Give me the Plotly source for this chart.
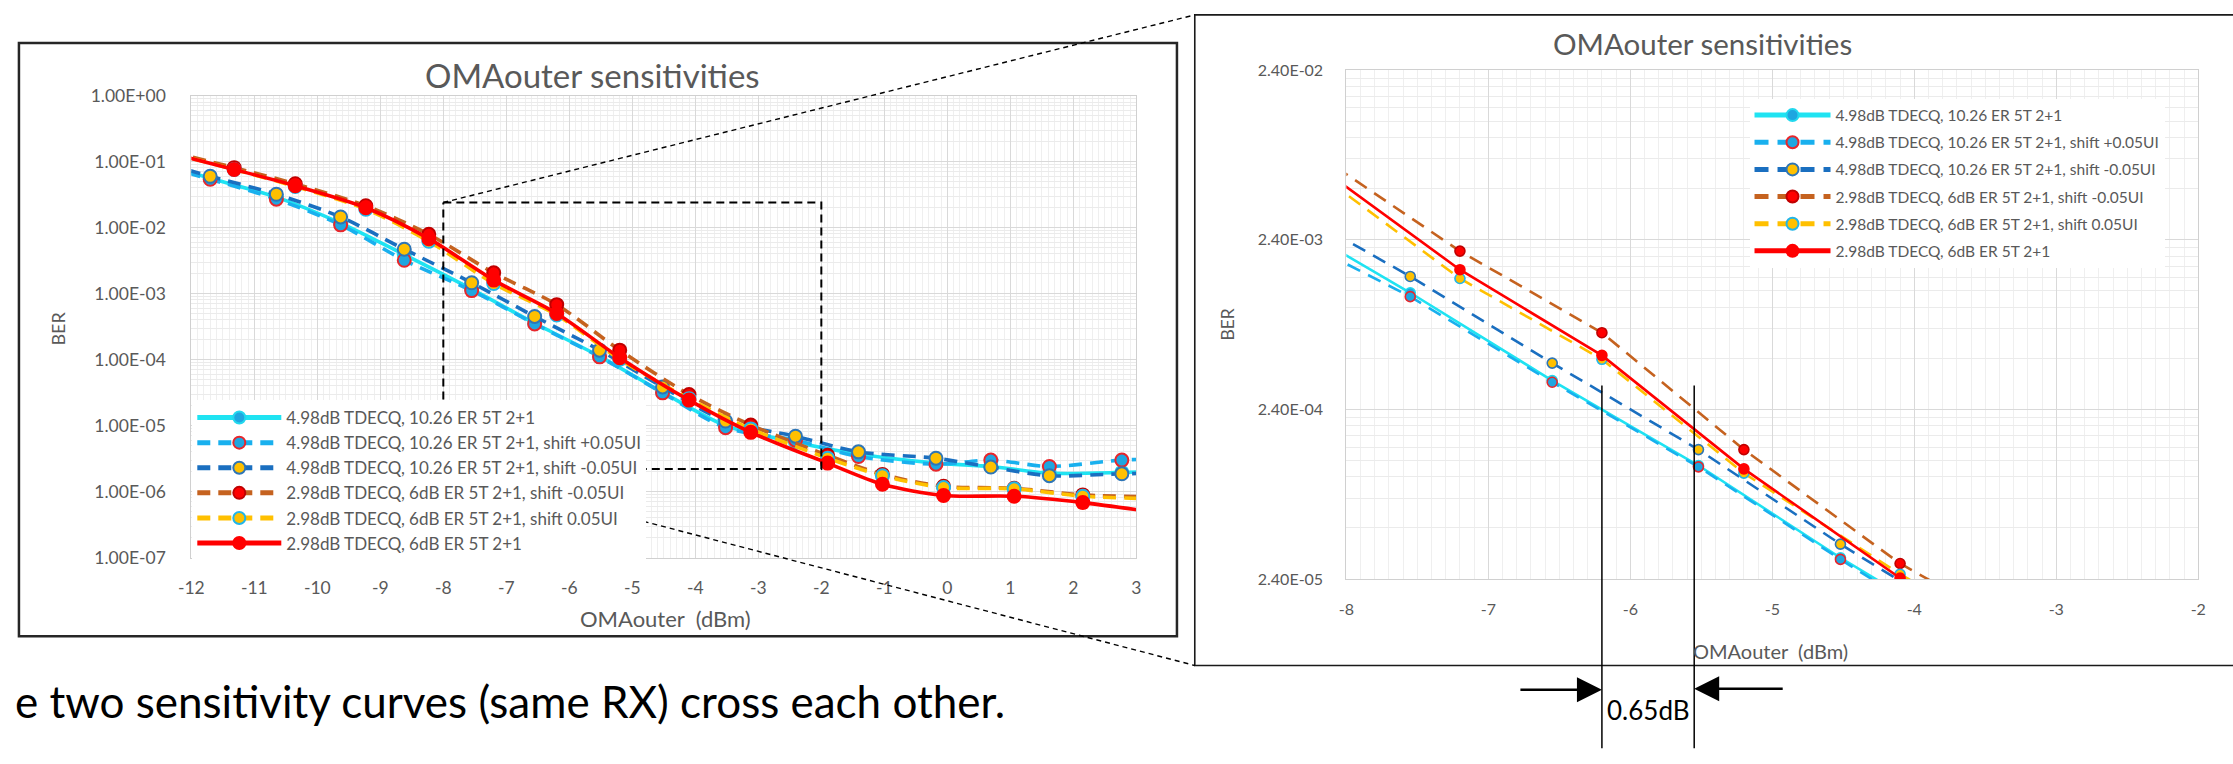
import math
import plotly.graph_objects as go

W, H = 2233, 764
FONT = "Lato"
GRAY = "#595959"

# ---------------- data ----------------
OMA_498 = [-12.7, -11.7, -10.65, -9.63, -8.62, -7.55, -6.55, -5.52, -4.52, -3.52,
           -2.41, -1.41, -0.18, 0.69, 1.62, 2.77, 3.7]
BER_498 = [1.07e-1, 5.6e-2, 2.9e-2, 1.17e-2, 3.9e-3, 1.17e-3, 3.55e-4, 1.12e-4, 3.2e-5,
           1.0e-5, 5.6e-6, 3.7e-6, 2.7e-6, 2.4e-6, 1.9e-6, 1.95e-6, 2.1e-6]
BER_498_plus = [1.0e-1, 5.4e-2, 2.7e-2, 1.1e-2, 3.2e-3, 1.11e-3, 3.47e-4, 1.1e-4, 3.13e-5,
                9.3e-6, 6.0e-6, 3.4e-6, 2.6e-6, 3.0e-6, 2.4e-6, 3.0e-6, 3.16e-6]
BER_498_minus = [1.12e-1, 6.0e-2, 3.2e-2, 1.45e-2, 4.7e-3, 1.46e-3, 4.5e-4, 1.39e-4, 3.85e-5,
                 1.17e-5, 6.9e-6, 4.0e-6, 3.2e-6, 2.35e-6, 1.74e-6, 1.86e-6, 1.9e-6]

OMA_298 = [-12.3, -11.32, -10.35, -9.23, -8.23, -7.2, -6.2, -5.2, -4.1, -3.12,
           -1.9, -1.03, -0.06, 1.06, 2.15, 3.2]
BER_298_minus = [1.38e-1, 8.1e-2, 4.6e-2, 2.14e-2, 7.9e-3, 2.06e-3, 6.8e-4, 1.39e-4, 2.96e-5,
                 1.02e-5, 3.55e-6, 1.82e-6, 1.2e-6, 1.12e-6, 8.9e-7, 8.3e-7]
BER_298_plus = [1.32e-1, 7.6e-2, 4.2e-2, 1.9e-2, 6.2e-3, 1.42e-3, 4.74e-4, 1.01e-4, 2.56e-5,
                8.9e-6, 3.2e-6, 1.74e-6, 1.15e-6, 1.1e-6, 8.5e-7, 7.8e-7]
BER_298 = [1.32e-1, 7.6e-2, 4.3e-2, 2.0e-2, 6.8e-3, 1.6e-3, 5.0e-4, 1.07e-4, 2.43e-5,
           7.9e-6, 2.7e-6, 1.29e-6, 8.7e-7, 8.5e-7, 6.8e-7, 5.0e-7]

NAMES = ["4.98dB TDECQ, 10.26 ER 5T 2+1",
         "4.98dB TDECQ, 10.26 ER 5T 2+1, shift +0.05UI",
         "4.98dB TDECQ, 10.26 ER 5T 2+1, shift -0.05UI",
         "2.98dB TDECQ, 6dB ER 5T 2+1, shift -0.05UI",
         "2.98dB TDECQ, 6dB ER 5T 2+1, shift 0.05UI",
         "2.98dB TDECQ, 6dB ER 5T 2+1"]

LEFT_YTICKS = [1e-7, 1e-6, 1e-5, 1e-4, 1e-3, 1e-2, 1e-1, 1e0]
LEFT_XTICKS = list(range(-12, 4))
RIGHT_YTICKS = [2.4e-5, 2.4e-4, 2.4e-3, 2.4e-2]
RIGHT_XTICKS = list(range(-8, -1))

ZOOM_BOX_X = [-8, -2]
ZOOM_BOX_Y = [2.4e-2, 2.2e-6]
DELTA_X = [-6.2, -5.55]
DELTA_LABEL = "0.65dB"
CAPTION = "e two sensitivity curves (same RX) cross each other."
TITLE = "OMAouter sensitivities"
XTITLE = "OMAouter  (dBm)"
YTITLE = "BER"

# ---------------- styles ----------------
SERIES = [
    (OMA_498, BER_498, "#1FE3F2", "solid", "#1FA6E0", "#22D8EE"),
    (OMA_498, BER_498_plus, "#19B0EE", "dash", "#1FA6E0", "#E8262B"),
    (OMA_498, BER_498_minus, "#1A6FC0", "dash", "#FFC000", "#2E75B6"),
    (OMA_298, BER_298_minus, "#C5621F", "dash", "#FF0000", "#C00000"),
    (OMA_298, BER_298_plus, "#FFC000", "dash", "#FFC000", "#22B5E8"),
    (OMA_298, BER_298, "#FF0000", "solid", "#FF0000", "#FF0000"),
]

# plot-area pixel boxes
L_PLOT = dict(x0=180, x1=1134, y0=87, y1=562)
R_PLOT = dict(x0=1346, x1=2206, y0=61, y1=584)


def px(x):
    return x / W


def py(y):
    return 1 - y / H


fig = go.Figure()

for i, (xs, ys, col, dash, mfill, mline) in enumerate(SERIES):
    dashL = "13px,8px" if dash == "dash" else "solid"
    fig.add_trace(go.Scatter(
        x=xs, y=ys, name=NAMES[i], mode="lines+markers", xaxis="x", yaxis="y",
        legend="legend", legendgroup=f"L{i}",
        line=dict(color=col, width=3.6, dash=dashL, shape="spline", smoothing=0.8),
        marker=dict(size=13, color=mfill, line=dict(color=mline, width=2)),
    ))
for i, (xs, ys, col, dash, mfill, mline) in enumerate(SERIES):
    dashR = "14px,9px" if dash == "dash" else "solid"
    fig.add_trace(go.Scatter(
        x=xs, y=ys, name=NAMES[i], mode="lines+markers", xaxis="x2", yaxis="y2",
        legend="legend2", legendgroup=f"R{i}",
        line=dict(color=col, width=2.6, dash=dashR),
        marker=dict(size=10, color=mfill, line=dict(color=mline, width=1.6)),
    ))

# dashed zoom box on the left chart (data coordinates)
fig.add_trace(go.Scatter(
    x=[ZOOM_BOX_X[0], ZOOM_BOX_X[1], ZOOM_BOX_X[1], ZOOM_BOX_X[0], ZOOM_BOX_X[0]],
    y=[ZOOM_BOX_Y[0], ZOOM_BOX_Y[0], ZOOM_BOX_Y[1], ZOOM_BOX_Y[1], ZOOM_BOX_Y[0]],
    mode="lines", xaxis="x", yaxis="y", showlegend=False, hoverinfo="skip",
    line=dict(color="black", width=2, dash="8px,5px"),
))

LX = [-12, 3]
LY = [-7, 0]
RX = [-8, -2]
RY = [math.log10(2.4e-5), math.log10(2.4e-2)]

xdomL = [px(L_PLOT["x0"]), px(L_PLOT["x1"])]
ydomL = [py(L_PLOT["y1"]), py(L_PLOT["y0"])]
xdomR = [px(R_PLOT["x0"]), px(R_PLOT["x1"])]
ydomR = [py(R_PLOT["y1"]), py(R_PLOT["y0"])]


def minor_log(ticks):
    out = []
    for t in ticks[:-1]:
        for n in range(2, 10):
            out.append(t * n)
    return out


def axis_common(size):
    return dict(showline=True, linecolor="#D0D0D0", linewidth=1, mirror=True,
                ticks="", zeroline=False, gridcolor="#D9D9D9", gridwidth=1,
                tickfont=dict(family=FONT, size=size, color=GRAY))


fig.update_layout(
    xaxis=dict(domain=xdomL, range=LX, anchor="y", tickmode="array", tickvals=LEFT_XTICKS,
               ticktext=[str(v) for v in LEFT_XTICKS], ticklabelstandoff=14,
               minor=dict(dtick=0.1, showgrid=True, gridcolor="#EFEFEF", gridwidth=1, ticks=""),
               **axis_common(17.5)),
    yaxis=dict(domain=ydomL, type="log", range=LY, anchor="x", tickmode="array",
               tickvals=LEFT_YTICKS, ticktext=[f"{v:.2E}" for v in LEFT_YTICKS],
               ticklabelstandoff=21,
               minor=dict(tickmode="array", tickvals=minor_log(LEFT_YTICKS), showgrid=True,
                          gridcolor="#EBEBEB", gridwidth=1, ticks=""),
               **axis_common(17.5)),
    xaxis2=dict(domain=xdomR, range=RX, anchor="y2", tickmode="array", tickvals=RIGHT_XTICKS,
                ticktext=[str(v) for v in RIGHT_XTICKS], ticklabelstandoff=16,
                minor=dict(dtick=0.1, showgrid=True, gridcolor="#EFEFEF", gridwidth=1, ticks=""),
                **axis_common(16)),
    yaxis2=dict(domain=ydomR, type="log", range=RY, anchor="x2", tickmode="array",
                tickvals=RIGHT_YTICKS, ticktext=[f"{v:.2E}" for v in RIGHT_YTICKS],
                ticklabelstandoff=19,
                minor=dict(tickmode="array", tickvals=minor_log(RIGHT_YTICKS), showgrid=True,
                           gridcolor="#EBEBEB", gridwidth=1, ticks=""),
                **axis_common(16)),
    width=W, height=H, margin=dict(l=0, r=0, t=0, b=0),
    paper_bgcolor="white", plot_bgcolor="white",
    legend=dict(x=px(181), y=py(400), xanchor="left", yanchor="top", bgcolor="white",
                borderwidth=0, font=dict(family=FONT, size=17, color=GRAY),
                itemwidth=84, traceorder="grouped", tracegroupgap=0, itemsizing="constant"),
    legend2=dict(x=px(1753), y=py(90), xanchor="left", yanchor="top", bgcolor="white",
                 borderwidth=0, font=dict(family=FONT, size=15.5, color=GRAY),
                 itemwidth=76, traceorder="grouped", tracegroupgap=4, itemsizing="constant"),
    showlegend=True,
)


def data_to_paper_left(x, y):
    fx = (x - LX[0]) / (LX[1] - LX[0])
    fy = (math.log10(y) - LY[0]) / (LY[1] - LY[0])
    return (xdomL[0] + fx * (xdomL[1] - xdomL[0]), ydomL[0] + fy * (ydomL[1] - ydomL[0]))


shapes = []
# chart frames
shapes.append(dict(type="rect", xref="paper", yref="paper", x0=px(6), x1=px(1175),
                   y0=py(643), y1=py(33), line=dict(color="#262626", width=2.5), layer="below"))
shapes.append(dict(type="rect", xref="paper", yref="paper", x0=px(1193), x1=px(2260),
                   y0=py(673), y1=py(4), line=dict(color="#1A1A1A", width=1.6), layer="below"))
# connector lines from the zoom-box corners to the zoomed chart
tl = data_to_paper_left(ZOOM_BOX_X[0], ZOOM_BOX_Y[0])
bl = data_to_paper_left(ZOOM_BOX_X[0], ZOOM_BOX_Y[1])
shapes.append(dict(type="line", xref="paper", yref="paper", x0=tl[0], y0=tl[1],
                   x1=px(1193), y1=py(4), line=dict(color="black", width=1.4, dash="5px,4px")))
shapes.append(dict(type="line", xref="paper", yref="paper", x0=bl[0], y0=bl[1],
                   x1=px(1193), y1=py(673), line=dict(color="black", width=1.4, dash="5px,4px")))
# delta markers on the zoomed chart
for xv in DELTA_X:
    shapes.append(dict(type="line", xref="x2", yref="paper", x0=xv, x1=xv,
                       y0=py(758), y1=py(385), line=dict(color="black", width=1.5)))
fig.update_layout(shapes=shapes)


def label(text, x, y, size, color=GRAY, angle=0, xanchor="center", xref="paper"):
    return dict(text=text, x=x, y=y, xref=xref, yref="paper", xanchor=xanchor,
                yanchor="middle", textangle=angle, showarrow=False,
                font=dict(family=FONT, size=size, color=color))


ann = [
    label(TITLE, px(585), py(66), 33),
    label(XTITLE, px(659), py(625), 22),
    label(YTITLE, px(45), py(327), 18, angle=-90),
    label(TITLE, px(1706), py(33), 29.5),
    label(XTITLE, px(1774), py(658), 20),
    label(YTITLE, px(1226), py(322), 17.5, angle=-90),
    label(DELTA_LABEL, (DELTA_X[0] + DELTA_X[1]) / 2, py(719), 26, color="black", xref="x2"),
    label(CAPTION, 0, py(710), 44, color="black", xanchor="left"),
]
# arrows pointing at the two vertical markers
ann.append(dict(text="", x=DELTA_X[0], y=py(698), xref="x2", yref="paper", showarrow=True,
                ax=-83, ay=0, axref="pixel", ayref="pixel", arrowhead=2, arrowsize=2,
                arrowwidth=2.5, arrowcolor="black", standoff=0))
ann.append(dict(text="", x=DELTA_X[1], y=py(697), xref="x2", yref="paper", showarrow=True,
                ax=90, ay=0, axref="pixel", ayref="pixel", arrowhead=2, arrowsize=2,
                arrowwidth=2.5, arrowcolor="black", standoff=0))
fig.update_layout(annotations=ann)

# make sure the page body adds no margin around the figure
fig.write_html("out.html",
               post_script="document.body.style.margin='0';")
